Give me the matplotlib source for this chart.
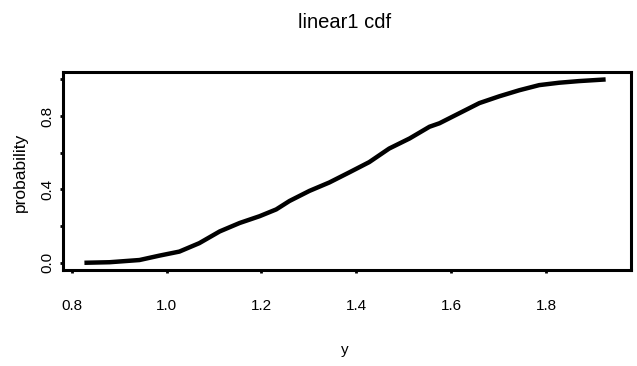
import matplotlib.pyplot as plt
import numpy as np

plt.rcParams['font.family'] = ['Liberation Sans', 'DejaVu Sans']

y_vals = [0.827, 0.880, 0.943, 0.985, 1.027, 1.069, 1.112, 1.154, 1.196, 1.231,
          1.259, 1.301, 1.343, 1.385, 1.427, 1.469, 1.512, 1.554, 1.575, 1.617,
          1.659, 1.701, 1.743, 1.785, 1.827, 1.869, 1.925]
prob = [0.0, 0.003, 0.015, 0.039, 0.061, 0.107, 0.171, 0.217, 0.254, 0.291,
        0.337, 0.392, 0.438, 0.493, 0.549, 0.623, 0.678, 0.742, 0.761, 0.816,
        0.871, 0.908, 0.941, 0.969, 0.982, 0.991, 1.0]

xticks = [0.8, 1.0, 1.2, 1.4, 1.6, 1.8]
yticks = [0.0, 0.2, 0.4, 0.6, 0.8, 1.0]
ylabels = ['0.0', '', '0.4', '', '0.8', '']

fig = plt.figure(figsize=(6.37, 3.66), dpi=100)
ax = fig.add_axes([0.099, 0.262, 0.892, 0.541])

ax.plot(y_vals, prob, color='black', lw=3.2, solid_capstyle='butt')
ax.set_xlim(0.782, 1.979)
ax.set_ylim(-0.04, 1.04)

ax.set_xticks(xticks)
ax.set_xticklabels(['%.1f' % v for v in xticks], fontsize=11)
ax.set_yticks(yticks)
ax.set_yticklabels(ylabels, fontsize=11, rotation=90, va='center')
ax.tick_params(axis='x', length=2.5, width=2, pad=18)
ax.tick_params(axis='y', length=2.5, width=2, pad=4)

for s in ax.spines.values():
    s.set_linewidth(2.2)

fig.text(345/637, 1 - 350/366, 'y', fontsize=11, ha='center', va='center')
fig.text(20/637, 1 - 172/366, 'probability', fontsize=12.5, ha='center',
         va='center', rotation=90)
fig.text(345/637, 1 - 22/366, 'linear1 cdf', fontsize=14.5, ha='center', va='center')

fig.savefig('out.png', dpi=100)
